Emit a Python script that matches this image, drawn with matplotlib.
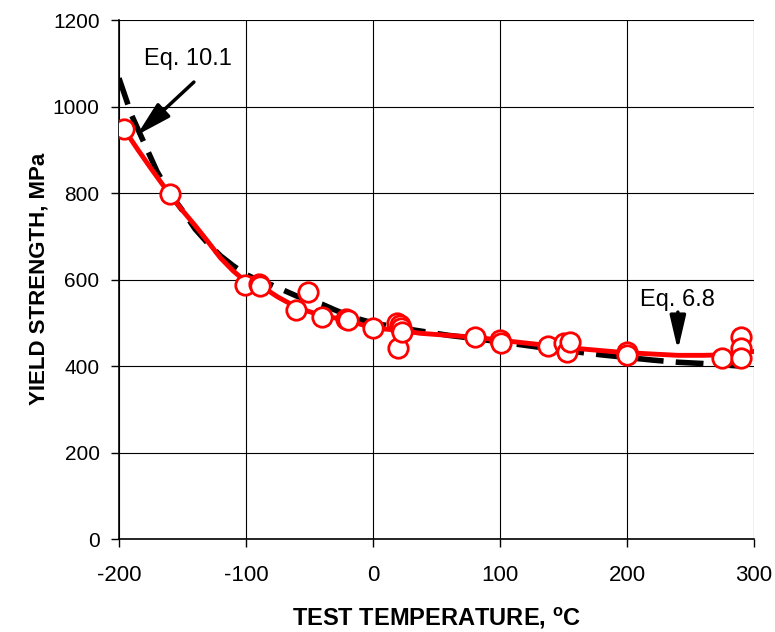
import matplotlib
matplotlib.use("Agg")
import matplotlib.pyplot as plt

plt.rcParams['font.family'] = ['Liberation Sans', 'DejaVu Sans']
plt.rcParams['mathtext.fontset'] = 'custom'
plt.rcParams['mathtext.rm'] = 'Liberation Sans:bold'
plt.rcParams['mathtext.bf'] = 'Liberation Sans:bold'
plt.rcParams['axes.unicode_minus'] = False

# Measured data points
temp_pts = [-196, -160, -101, -90, -89, -61, -51, -40, -21, -20, 0,
            19, 20, 21, 22, 23, 80, 100, 101, 138, 150, 153, 155,
            200, 200, 275, 290, 290, 290]
ys_pts = [948, 797, 587, 591, 586, 529, 571, 513, 508, 506, 488,
          499, 441, 494, 488, 478, 467, 460, 453, 446, 453, 432, 455,
          432, 425, 418, 468, 442, 418]

# Red trend curve
temp_red = [-196, -185, -175, -160, -150, -140, -130, -120, -110, -100, -87,
            -75, -60, -42, -20, 0, 21, 37, 60, 80, 100, 137, 160, 195,
            220, 240, 260, 275, 290, 300]
ys_red = [948, 900, 858, 797, 760, 725, 688, 650, 620, 595, 583,
          560, 536, 518, 506, 488, 483, 476, 471, 467, 460, 448, 441, 432,
          428, 425, 425, 426, 430, 434]

# Black dashed fit (Eq. 10.1 / Eq. 6.8)
temp_fit = [-200, -190, -180, -170, -160, -150, -140, -130, -120, -110, -100,
            -90, -80, -70, -60, -50, -40, -30, -20, -10, 0, 20, 40, 60, 80,
            100, 120, 140, 160, 180, 200, 220, 240, 260, 280, 290]
ys_fit = [1066, 980, 915, 850, 800, 760, 717, 684, 655, 632, 612,
          598, 588, 575, 562, 552, 543, 530, 518, 508, 500, 489, 480, 471, 464,
          456, 448, 440, 433, 426, 420, 414, 409, 406, 402, 400]

xticks = [-200, -100, 0, 100, 200, 300]
yticks = [0, 200, 400, 600, 800, 1000, 1200]

fig = plt.figure(figsize=(7.75, 6.32), dpi=100)
ax = fig.add_axes([0.1535, 0.147, 0.8195, 0.821])

ax.plot(temp_fit, ys_fit, color='black', lw=4, ls=(0, (5, 2.2)), zorder=2)
ax.plot(temp_red, ys_red, color='red', lw=3.5, zorder=3)
ax.plot(temp_pts, ys_pts, ls='none', marker='o', ms=14, mfc='white',
        mec='red', mew=2, zorder=4)

ax.set_xlim(-200, 300)
ax.set_ylim(0, 1200)
ax.set_xticks(xticks)
ax.set_yticks(yticks)
ax.grid(True, color='black', lw=0.8)
ax.set_axisbelow(True)
for s in ['top', 'right']:
    ax.spines[s].set_visible(False)
for s in ['left', 'bottom']:
    ax.spines[s].set_linewidth(1.2)
ax.tick_params(axis='both', direction='out', length=6, width=1)
ax.tick_params(axis='x', labelsize=16, pad=13)
ax.tick_params(axis='y', labelsize=15, pad=8)

ax.set_xlabel('TEST TEMPERATURE, $^{\\mathrm{o}}$C', fontsize=17,
              fontweight='bold', va='top')
ax.xaxis.set_label_coords(0.5, -0.128)
ax.set_ylabel('YIELD STRENGTH, MPa', fontsize=16, fontweight='bold')
ax.yaxis.set_label_coords(-0.110, 0.501)

ax.text(-146, 1110, 'Eq. 10.1', ha='center', va='center', fontsize=17)
ax.annotate('', xy=(-186, 934), xytext=(-141, 1057),
            arrowprops=dict(arrowstyle='-|>,head_length=1.25,head_width=0.33',
                            mutation_scale=17, color='black', lw=2.5,
                            shrinkA=0, shrinkB=0))
ax.text(240, 553, 'Eq. 6.8', ha='center', va='center', fontsize=17)
ax.annotate('', xy=(240, 437), xytext=(240, 525),
            arrowprops=dict(arrowstyle='-|>,head_length=1.2,head_width=0.28',
                            mutation_scale=17, color='black', lw=2.5,
                            shrinkA=0, shrinkB=0))

fig.savefig('out.png', dpi=100)
